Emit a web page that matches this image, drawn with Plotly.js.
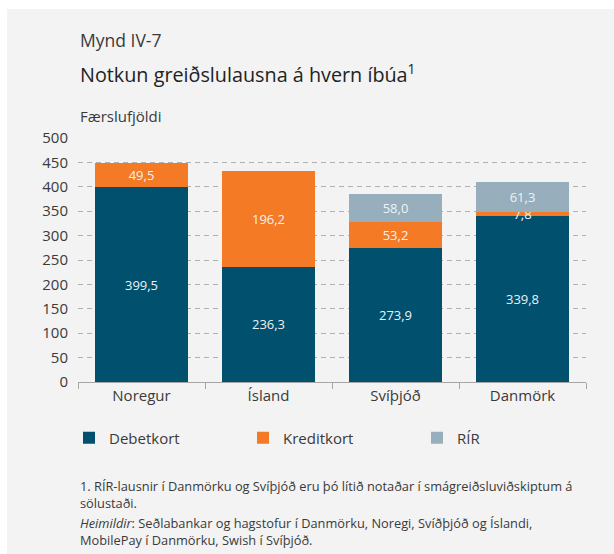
<!DOCTYPE html>
<html>
<head>
<meta charset="utf-8">
<script src="https://cdn.plot.ly/plotly-3.0.1.min.js"></script>
<style>
  html, body { margin: 0; padding: 0; background: #ffffff; width: 614px; height: 554px; overflow: hidden; }
  #chart { position: absolute; left: 7px; top: 9px; width: 607px; height: 545px; }
</style>
</head>
<body>
<div id="chart"></div>
<script>
const categories = ['Noregur', 'Ísland', 'Svíþjóð', 'Danmörk'];
const debetkort = [399.5, 236.3, 273.9, 339.8];
const kreditkort = [49.5, 196.2, 53.2, 7.8];
const rir = [null, null, 58.0, 61.3];
const seriesNames = ['Debetkort', 'Kreditkort', 'RÍR'];
const seriesColors = ['#00506e', '#f47a26', '#97aebd'];
const yTicks = [0, 50, 100, 150, 200, 250, 300, 350, 400, 450, 500];

const W = 607, H = 545;
const M = { l: 71, r: 28, t: 129, b: 172 };
const PW = W - M.l - M.r, PH = H - M.t - M.b;
const px = x => (x - M.l) / PW;
const py = y => (H - M.b - y) / PH;

const textColor = '#3a3a3a';
const FONT = '"Open Sans", "Noto Sans", "DejaVu Sans", sans-serif';

const seriesData = [debetkort, kreditkort, rir];
const traces = seriesData.map((vals, i) => {
  const idx = vals.map((v, k) => k).filter(k => vals[k] !== null);
  return {
    type: 'bar',
    name: seriesNames[i],
    x: idx.map(k => categories[k]),
    y: idx.map(k => vals[k]),
    marker: { color: seriesColors[i], line: { width: 0 } },
    texttemplate: '%{y:.1f}',
    textposition: 'inside',
    insidetextanchor: 'middle',
    textangle: 0,
    constraintext: 'none',
    textfont: { family: FONT, size: 13, color: '#eef2f5' },
    hoverinfo: 'skip'
  };
});

const footnotes = [
  { text: '1. RÍR-lausnir í Danmörku og Svíþjóð eru þó lítið notaðar í smágreiðsluviðskiptum á<br>sölustaði.', y: 466 },
  { text: '<i>Heimildir</i>: Seðlabankar og hagstofur í Danmörku, Noregi, Svíðþjóð og Íslandi,<br>MobilePay í Danmörku, Swish í Svíþjóð.', y: 503 }
];

const layout = {
  width: W, height: H,
  margin: M,
  paper_bgcolor: '#f3f3f3',
  plot_bgcolor: 'rgba(0,0,0,0)',
  barmode: 'stack',
  bargap: 0.275,
  separators: ',.',
  font: { family: FONT, color: textColor, size: 15 },
  uniformtext: { mode: 'show', minsize: 13 },
  xaxis: {
    type: 'category',
    categoryorder: 'array', categoryarray: categories,
    range: [-0.5, 3.5],
    showline: true, linecolor: '#a6a6a6', linewidth: 1,
    ticks: 'outside', tickson: 'boundaries', ticklen: 6, tickcolor: '#a6a6a6', tickwidth: 1,
    tickfont: { size: 15, color: textColor },
    showgrid: false, zeroline: false
  },
  yaxis: {
    range: [0, 500],
    tickvals: yTicks,
    ticktext: yTicks.map(String),
    ticks: 'outside', ticklen: 6, tickcolor: 'rgba(0,0,0,0)',
    tickfont: { size: 15, color: textColor },
    showgrid: true, gridcolor: '#b0b0b0', gridwidth: 1, griddash: '5px,4px',
    zeroline: false, showline: false
  },
  showlegend: true,
  legend: {
    orientation: 'h',
    x: px(62), xanchor: 'left',
    y: py(429), yanchor: 'middle',
    entrywidth: 129, entrywidthmode: 'pixels',
    font: { size: 15, color: textColor },
    bgcolor: 'rgba(0,0,0,0)',
    traceorder: 'normal'
  },
  annotations: [
    { text: 'Mynd IV-7', xref: 'paper', yref: 'paper', x: px(71), y: py(31), xanchor: 'left', yanchor: 'middle', showarrow: false, font: { size: 17.5, color: textColor } },
    { text: 'Notkun greiðslulausna á hvern íbúa<sup>1</sup>', xref: 'paper', yref: 'paper', x: px(71), y: py(65), xanchor: 'left', yanchor: 'middle', showarrow: false, font: { size: 19.8, color: '#222222' } },
    { text: 'Færslufjöldi', xref: 'paper', yref: 'paper', x: px(71), y: py(107), xanchor: 'left', yanchor: 'middle', showarrow: false, font: { size: 15, color: textColor } }
  ].concat(footnotes.map(f => ({
    text: f.text, xref: 'paper', yref: 'paper', x: px(71), y: py(f.y), xanchor: 'left', yanchor: 'top', align: 'left', showarrow: false, font: { size: 12.8, color: textColor }
  })))
};

Plotly.newPlot('chart', traces, layout, { displayModeBar: false, staticPlot: true });
</script>
</body>
</html>
